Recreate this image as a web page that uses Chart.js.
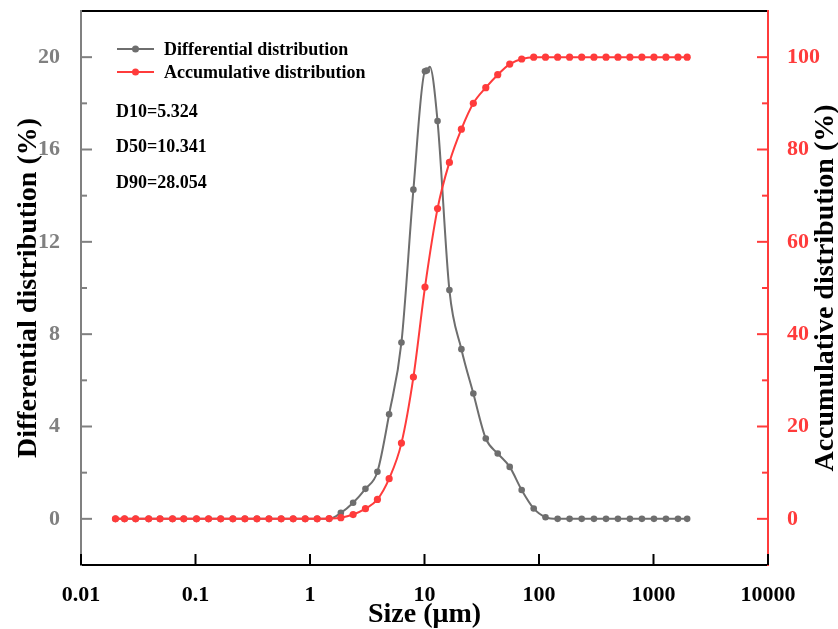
<!DOCTYPE html>
<html>
<head>
<meta charset="utf-8">
<script src="https://cdn.jsdelivr.net/npm/chart.js@4.4.0/dist/chart.umd.min.js"></script>
<style>
    html, body { margin: 0; padding: 0; background: #fff; }
    #contenedor { width: 838px; height: 629px; }
</style>
</head>
<body>
<div id="contenedor"><canvas id="grafico" width="838" height="629"></canvas></div>
<script>
// Tamaños de partícula (µm)
const sizes = [0.02, 0.024, 0.03, 0.039, 0.049, 0.063, 0.079, 0.102, 0.13, 0.166,
    0.212, 0.27, 0.344, 0.438, 0.56, 0.713, 0.908, 1.155, 1.47, 1.86,
    2.38, 3.05, 3.88, 4.91, 6.29, 8.0, 10.1, 13.0, 16.5, 21.0,
    26.7, 34.3, 43.6, 55.5, 70.6, 89.9, 114, 145.5, 185, 236,
    302, 385, 489, 622, 792, 1009, 1285, 1636, 1968];

// Distribución diferencial (%)
const differential = [0, 0, 0, 0, 0, 0, 0, 0, 0, 0,
    0, 0, 0, 0, 0, 0, 0, 0, 0, 0.26,
    0.70, 1.30, 2.04, 4.53, 7.64, 14.26, 19.39, 17.23, 9.91, 7.35,
    5.43, 3.48, 2.83, 2.25, 1.25, 0.45, 0.07, 0, 0, 0,
    0, 0, 0, 0, 0, 0, 0, 0, 0];

// Distribución acumulada (%)
const accumulative = [0, 0, 0, 0, 0, 0, 0, 0, 0, 0,
    0, 0, 0, 0, 0, 0, 0, 0, 0.05, 0.25,
    0.93, 2.2, 4.2, 8.7, 16.4, 30.7, 50.2, 67.2, 77.2, 84.4,
    90.0, 93.4, 96.2, 98.5, 99.6, 100, 100, 100, 100, 100,
    100, 100, 100, 100, 100, 100, 100, 100, 100];

// puntos extra de la curva diferencial cerca del pico
const peakSizes = [10.47, 11.12];
const peakValues = [19.42, 19.58];
const peakMarkers = [true, false];

const xTickValues = [0.01, 0.1, 1, 10, 100, 1000, 10000];
const xTickLabels = ['0.01', '0.1', '1', '10', '100', '1000', '10000'];
const leftTicks = [0, 4, 8, 12, 16, 20];
const leftMinor = [2, 6, 10, 14, 18];
const rightTicks = [0, 20, 40, 60, 80, 100];
const rightMinor = [10, 30, 50, 70, 90];
const seriesNames = ['Differential distribution', 'Accumulative distribution'];
const dLabels = ['D10=5.324', 'D50=10.341', 'D90=28.054'];
const rightTitle = 'Accumulative distribution (%)';

const gris = '#6e6e6e';
const grisEje = '#808080';
const rojo = '#ff3b3b';
const fuente = "'Liberation Serif', 'Times New Roman', serif";

// datos de la curva gris (con los puntos del pico ordenados)
const puntosGris = sizes.map((s, i) => ({ x: s, y: differential[i], marca: true }))
    .concat(peakSizes.map((s, i) => ({ x: s, y: peakValues[i], marca: peakMarkers[i] })))
    .sort((a, b) => a.x - b.x);
const puntosRojo = sizes.map((s, i) => ({ x: s, y: accumulative[i] }));

// ejes, marcas hacia adentro y borde superior
const marcoPlugin = {
    id: 'marco',
    afterDatasetsDraw(chart) {
        const { ctx, chartArea: a, scales } = chart;
        const linea = (x1, y1, x2, y2, color) => {
            ctx.strokeStyle = color;
            ctx.beginPath();
            ctx.moveTo(x1, y1);
            ctx.lineTo(x2, y2);
            ctx.stroke();
        };
        ctx.save();
        ctx.lineWidth = 2;
        ctx.lineCap = 'butt';
        linea(a.left, a.top, a.right, a.top, '#000');
        linea(a.left, a.bottom, a.right, a.bottom, '#000');
        linea(a.left, a.top - 1, a.left, a.bottom + 1, grisEje);
        linea(a.right, a.top - 1, a.right, a.bottom + 1, rojo);

        xTickValues.forEach(v => {
            const px = scales.x.getPixelForValue(v);
            linea(px, a.bottom, px, a.bottom - 11, '#000');
        });
        leftTicks.forEach(v => {
            const py = scales.y.getPixelForValue(v);
            linea(a.left, py, a.left + 11, py, grisEje);
        });
        leftMinor.forEach(v => {
            const py = scales.y.getPixelForValue(v);
            linea(a.left, py, a.left + 6, py, grisEje);
        });
        rightTicks.forEach(v => {
            const py = scales.y1.getPixelForValue(v);
            linea(a.right, py, a.right - 11, py, rojo);
        });
        rightMinor.forEach(v => {
            const py = scales.y1.getPixelForValue(v);
            linea(a.right, py, a.right - 6, py, rojo);
        });
        ctx.restore();
    }
};

// leyenda, valores D y título del eje derecho (girado como el izquierdo)
const leyendaPlugin = {
    id: 'leyenda',
    afterDraw(chart) {
        const { ctx, chartArea: a } = chart;
        ctx.save();
        ctx.font = 'bold 18px ' + fuente;
        ctx.textBaseline = 'middle';
        ctx.textAlign = 'left';
        seriesNames.forEach((nombre, i) => {
            const ds = chart.data.datasets.find(d => d.label === nombre);
            const y = a.top + 38 + i * 23;
            const x0 = a.left + 36;
            ctx.strokeStyle = ds.borderColor;
            ctx.lineWidth = 2;
            ctx.beginPath();
            ctx.moveTo(x0, y);
            ctx.lineTo(x0 + 37, y);
            ctx.stroke();
            ctx.fillStyle = ds.borderColor;
            ctx.beginPath();
            ctx.arc(x0 + 18.5, y, 3.5, 0, Math.PI * 2);
            ctx.fill();
            ctx.fillStyle = '#000';
            ctx.fillText(nombre, x0 + 47, y + 1);
        });
        dLabels.forEach((t, i) => {
            ctx.fillStyle = '#000';
            ctx.fillText(t, a.left + 35, a.top + 101 + i * 35.5);
        });

        ctx.font = 'bold 28px ' + fuente;
        ctx.textAlign = 'center';
        ctx.translate(chart.width - 12, (a.top + a.bottom) / 2);
        ctx.rotate(-Math.PI / 2);
        ctx.fillText(rightTitle, 0, 0);
        ctx.restore();
    }
};

const ctx = document.getElementById('grafico').getContext('2d');
new Chart(ctx, {
    type: 'line',
    data: {
        datasets: [{
            label: seriesNames[0],
            data: puntosGris,
            yAxisID: 'y',
            borderColor: gris,
            backgroundColor: gris,
            borderWidth: 2,
            pointRadius: c => (c.raw && c.raw.marca ? 3.3 : 0),
            pointBorderWidth: 0,
            pointBackgroundColor: gris,
            cubicInterpolationMode: 'monotone',
            order: 1
        }, {
            label: seriesNames[1],
            data: puntosRojo,
            yAxisID: 'y1',
            borderColor: rojo,
            backgroundColor: rojo,
            borderWidth: 2,
            pointRadius: 3.6,
            pointBorderWidth: 0,
            pointBackgroundColor: rojo,
            cubicInterpolationMode: 'monotone',
            order: 0
        }]
    },
    options: {
        responsive: false,
        animation: false,
        layout: { padding: { top: 11, left: 0, right: 0, bottom: 0 } },
        plugins: {
            legend: { display: false },
            tooltip: { enabled: false }
        },
        scales: {
            x: {
                type: 'logarithmic',
                position: 'bottom',
                min: 0.01,
                max: 10000,
                grid: { display: false },
                border: { display: false },
                afterBuildTicks: s => { s.ticks = xTickValues.map(v => ({ value: v })); },
                afterFit: s => { s.height = 64; s.paddingLeft = 0; s.paddingRight = 0; },
                ticks: {
                    autoSkip: false,
                    maxRotation: 0,
                    padding: 9,
                    color: '#000',
                    font: { family: fuente, size: 22, weight: 'bold' },
                    callback: v => xTickLabels[xTickValues.indexOf(v)]
                },
                title: {
                    display: true,
                    text: 'Size (μm)',
                    color: '#000',
                    padding: 0,
                    font: { family: fuente, size: 28, weight: 'bold', lineHeight: 1 }
                }
            },
            y: {
                position: 'left',
                min: -2,
                max: 22,
                grid: { display: false },
                border: { display: false },
                afterBuildTicks: s => { s.ticks = leftTicks.map(v => ({ value: v })); },
                afterFit: s => { s.width = 81; s.paddingTop = 0; s.paddingBottom = 0; },
                ticks: {
                    padding: 13,
                    color: grisEje,
                    font: { family: fuente, size: 22, weight: 'bold' }
                },
                title: {
                    display: true,
                    text: 'Differential distribution (%)',
                    color: '#000',
                    padding: 15,
                    font: { family: fuente, size: 28, weight: 'bold', lineHeight: 1 }
                }
            },
            y1: {
                position: 'right',
                min: -10,
                max: 110,
                grid: { display: false },
                border: { display: false },
                afterBuildTicks: s => { s.ticks = rightTicks.map(v => ({ value: v })); },
                afterFit: s => { s.width = 70; s.paddingTop = 0; s.paddingBottom = 0; },
                ticks: {
                    padding: 11,
                    color: rojo,
                    font: { family: fuente, size: 22, weight: 'bold' }
                }
            }
        }
    },
    plugins: [marcoPlugin, leyendaPlugin]
});
</script>
</body>
</html>
